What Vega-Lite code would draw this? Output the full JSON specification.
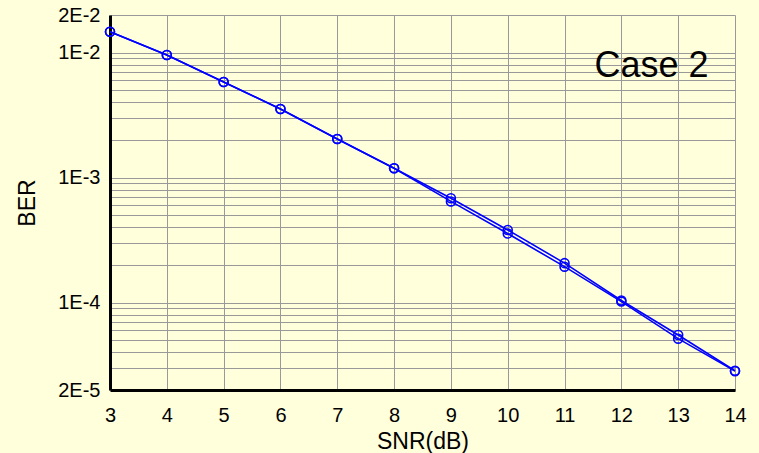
{
  "$schema": "https://vega.github.io/schema/vega-lite/v6.json",
  "autosize": "none",
  "width": 625,
  "height": 375,
  "padding": {"left": 110, "top": 15, "right": 24, "bottom": 63},
  "background": "#FFFFDC",
  "config": {
    "view": {"stroke": null},
    "font": "Liberation Sans",
    "axis": {
      "domainColor": "#000000",
      "domainWidth": 3,
      "ticks": false,
      "gridColor": "#999999",
      "gridWidth": 1,
      "gridOpacity": 1,
      "labelFont": "Liberation Sans",
      "labelFontSize": 20,
      "labelColor": "#000000",
      "labelFlush": false,
      "labelOverlap": false,
      "titleFont": "Liberation Sans",
      "titleFontSize": 23,
      "titleFontWeight": "normal",
      "titleColor": "#000000"
    }
  },
  "datasets": {
    "ber": [
      {"snr": 3, "ber": 0.0147, "series": "A"},
      {"snr": 4, "ber": 0.00957, "series": "A"},
      {"snr": 5, "ber": 0.00582, "series": "A"},
      {"snr": 6, "ber": 0.00354, "series": "A"},
      {"snr": 7, "ber": 0.00204, "series": "A"},
      {"snr": 8, "ber": 0.00119, "series": "A"},
      {"snr": 9, "ber": 0.000684, "series": "A"},
      {"snr": 10, "ber": 0.000381, "series": "A"},
      {"snr": 11, "ber": 0.000207, "series": "A"},
      {"snr": 12, "ber": 0.000104, "series": "A"},
      {"snr": 13, "ber": 0.0000551, "series": "A"},
      {"snr": 14, "ber": 0.0000285, "series": "A"},
      {"snr": 3, "ber": 0.0147, "series": "B"},
      {"snr": 4, "ber": 0.00957, "series": "B"},
      {"snr": 5, "ber": 0.00582, "series": "B"},
      {"snr": 6, "ber": 0.00354, "series": "B"},
      {"snr": 7, "ber": 0.00204, "series": "B"},
      {"snr": 8, "ber": 0.00119, "series": "B"},
      {"snr": 9, "ber": 0.000645, "series": "B"},
      {"snr": 10, "ber": 0.000357, "series": "B"},
      {"snr": 11, "ber": 0.000194, "series": "B"},
      {"snr": 12, "ber": 0.000102, "series": "B"},
      {"snr": 13, "ber": 0.0000515, "series": "B"},
      {"snr": 14, "ber": 0.0000283, "series": "B"}
    ],
    "note": [
      {"snr": 12.53, "ber": 0.00638, "label": "Case 2"}
    ]
  },
  "encoding": {
    "x": {
      "field": "snr",
      "type": "quantitative",
      "title": "SNR(dB)",
      "scale": {"domain": [3, 14], "nice": false, "zero": false},
      "axis": {
        "values": [3, 4, 5, 6, 7, 8, 9, 10, 11, 12, 13, 14],
        "labelPadding": 15,
        "titleY": 58,
        "titleBaseline": "alphabetic"
      }
    },
    "y": {
      "field": "ber",
      "type": "quantitative",
      "title": "BER",
      "scale": {"type": "log", "domain": [0.00002, 0.02], "nice": false},
      "axis": {
        "values": [0.00002, 0.00003, 0.00004, 0.00005, 0.00006, 0.00007, 0.00008, 0.00009,
                   0.0001, 0.0002, 0.0003, 0.0004, 0.0005, 0.0006, 0.0007, 0.0008, 0.0009,
                   0.001, 0.002, 0.003, 0.004, 0.005, 0.006, 0.007, 0.008, 0.009,
                   0.01, 0.02],
        "labelExpr": "datum.value == 0.02 ? '2E-2' : datum.value == 0.01 ? '1E-2' : datum.value == 0.001 ? '1E-3' : datum.value == 0.0001 ? '1E-4' : datum.value == 0.00002 ? '2E-5' : ''",
        "labelPadding": 10,
        "titleX": -83,
        "titleY": 187.5,
        "titleAngle": -90,
        "titleAlign": "center",
        "titleBaseline": "middle"
      }
    }
  },
  "layer": [
    {
      "data": {"name": "ber"},
      "mark": {"type": "line", "color": "#0000FF", "strokeWidth": 1.6},
      "encoding": {"detail": {"field": "series", "type": "nominal"}}
    },
    {
      "data": {"name": "ber"},
      "mark": {"type": "point", "shape": "circle", "filled": false, "size": 80, "strokeWidth": 1.6, "color": "#0000FF", "opacity": 1},
      "encoding": {"detail": {"field": "series", "type": "nominal"}}
    },
    {
      "data": {"name": "note"},
      "mark": {"type": "text", "fontSize": 36, "font": "Liberation Sans", "align": "center", "baseline": "alphabetic", "color": "#000000"},
      "encoding": {"text": {"field": "label", "type": "nominal"}}
    },
    {
      "data": {"values": [{}]},
      "mark": {"type": "rule", "color": "#000000", "strokeWidth": 3},
      "encoding": {"x": {"datum": 14}, "y": null}
    }
  ]
}
